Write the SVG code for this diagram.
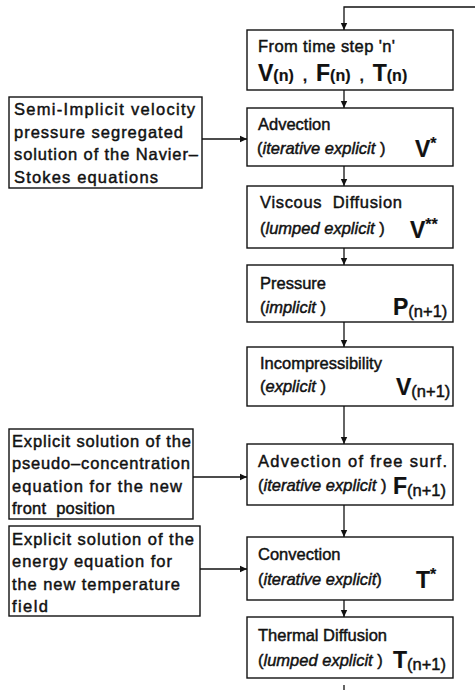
<svg xmlns="http://www.w3.org/2000/svg" width="475" height="690" viewBox="0 0 475 690">
<style>
.box{fill:#fff;stroke:#111;stroke-width:1.4}
.ln{fill:none;stroke:#111;stroke-width:1.3}
text{font-family:"Liberation Sans",Arial,sans-serif;fill:#111;stroke:#111;stroke-width:0.45}
.t{font-size:16.5px}
.i{font-style:italic}
.b{font-size:23px;font-weight:bold;stroke-width:0.2}
.bs{font-size:16px;font-weight:bold;stroke-width:0.2}
.s{font-size:16.5px}
.pre{white-space:pre}
</style>
<defs>
<marker id="ah" markerWidth="8" markerHeight="8" refX="7" refY="4" orient="auto" markerUnits="userSpaceOnUse">
<path d="M0,0.8 L7,4 L0,7.2 Z" fill="#111"/>
</marker>
</defs>
<rect width="475" height="690" fill="#fff"/>
<g id="connectors">
<polyline class="ln" points="475,7 344,7 344,30" marker-end="url(#ah)"/>
<line class="ln" x1="344" y1="90" x2="344" y2="108" marker-end="url(#ah)"/>
<line class="ln" x1="344" y1="166" x2="344" y2="186" marker-end="url(#ah)"/>
<line class="ln" x1="344" y1="248" x2="344" y2="265" marker-end="url(#ah)"/>
<line class="ln" x1="344" y1="322" x2="344" y2="347" marker-end="url(#ah)"/>
<line class="ln" x1="344" y1="406" x2="344" y2="444" marker-end="url(#ah)"/>
<line class="ln" x1="344" y1="505" x2="344" y2="537" marker-end="url(#ah)"/>
<line class="ln" x1="344" y1="600" x2="344" y2="617" marker-end="url(#ah)"/>
<line class="ln" x1="344" y1="685" x2="344" y2="690"/>
<line class="ln" x1="202" y1="139" x2="247" y2="139" marker-end="url(#ah)"/>
<line class="ln" x1="193" y1="477" x2="247" y2="477" marker-end="url(#ah)"/>
<line class="ln" x1="200" y1="569" x2="247" y2="569" marker-end="url(#ah)"/>
</g>
<g id="n1">
<rect class="box" x="247" y="30" width="206" height="60"/>
<text class="t" x="258" y="52" textLength="137">From time step 'n'</text>
<text class="pre" x="258" y="81"><tspan class="b">V</tspan><tspan class="bs">(n)  ,  </tspan><tspan class="b">F</tspan><tspan class="bs">(n)  ,  </tspan><tspan class="b">T</tspan><tspan class="bs">(n)</tspan></text>
</g>
<g id="n2">
<rect class="box" x="247" y="108" width="206" height="58"/>
<text class="t" x="258" y="130">Advection</text>
<text class="t" x="257" y="154">(<tspan class="i">iterative explicit</tspan> )</text>
<text x="415" y="157"><tspan class="b">V</tspan><tspan class="bs" dy="-8">*</tspan></text>
</g>
<g id="n3">
<rect class="box" x="247" y="186" width="206" height="62"/>
<text class="t pre" x="260" y="208" textLength="142">Viscous  Diffusion</text>
<text class="t" x="260" y="234">(<tspan class="i">lumped explicit</tspan> )</text>
<text x="410" y="238"><tspan class="b">V</tspan><tspan class="bs" dy="-8">**</tspan></text>
</g>
<g id="n4">
<rect class="box" x="247" y="265" width="206" height="57"/>
<text class="t" x="260" y="289">Pressure</text>
<text class="t" x="260" y="313">(<tspan class="i">implicit</tspan> )</text>
<text x="393" y="315"><tspan class="b">P</tspan><tspan class="s" dy="2">(n+1)</tspan></text>
</g>
<g id="n5">
<rect class="box" x="247" y="347" width="206" height="59"/>
<text class="t" x="260" y="369">Incompressibility</text>
<text class="t" x="260" y="392">(<tspan class="i">explicit</tspan> )</text>
<text x="396" y="395"><tspan class="b">V</tspan><tspan class="s" dy="2">(n+1)</tspan></text>
</g>
<g id="n6">
<rect class="box" x="247" y="444" width="206" height="61"/>
<text class="t" x="258" y="467" textLength="189">Advection of free surf.</text>
<text class="t" x="258" y="491">(<tspan class="i">iterative explicit</tspan> )</text>
<text x="393" y="494"><tspan class="b">F</tspan><tspan class="s" dy="2">(n+1)</tspan></text>
</g>
<g id="n7">
<rect class="box" x="247" y="537" width="206" height="63"/>
<text class="t" x="258" y="560">Convection</text>
<text class="t" x="258" y="585">(<tspan class="i">iterative explicit</tspan>)</text>
<text x="416" y="588"><tspan class="b">T</tspan><tspan class="bs" dy="-8">*</tspan></text>
</g>
<g id="n8">
<rect class="box" x="247" y="617" width="206" height="61"/>
<text class="t" x="258" y="641">Thermal Diffusion</text>
<text class="t" x="258" y="666">(<tspan class="i">lumped explicit</tspan> )</text>
<text x="393" y="668"><tspan class="b">T</tspan><tspan class="s" dy="2">(n+1)</tspan></text>
</g>
<g id="l1">
<rect class="box" x="9" y="97" width="193" height="91"/>
<text class="t" x="14" y="115" textLength="181">Semi-Implicit velocity</text>
<text class="t" x="14" y="138" textLength="169">pressure segregated</text>
<text class="t" x="14" y="160" textLength="184">solution of the Navier–</text>
<text class="t" x="14" y="183" textLength="144">Stokes equations</text>
</g>
<g id="l2">
<rect class="box" x="9" y="429" width="184" height="90"/>
<text class="t" x="12" y="447" textLength="179">Explicit solution of the</text>
<text class="t" x="12" y="469" textLength="178">pseudo–concentration</text>
<text class="t" x="12" y="492" textLength="170">equation for the new</text>
<text class="t pre" x="12" y="514" textLength="103">front  position</text>
</g>
<g id="l3">
<rect class="box" x="9" y="526" width="191" height="90"/>
<text class="t" x="12" y="545" textLength="182">Explicit solution of the</text>
<text class="t" x="12" y="567" textLength="160">energy equation for</text>
<text class="t" x="12" y="590" textLength="168">the new temperature</text>
<text class="t" x="12" y="612" textLength="36">field</text>
</g>
</svg>
